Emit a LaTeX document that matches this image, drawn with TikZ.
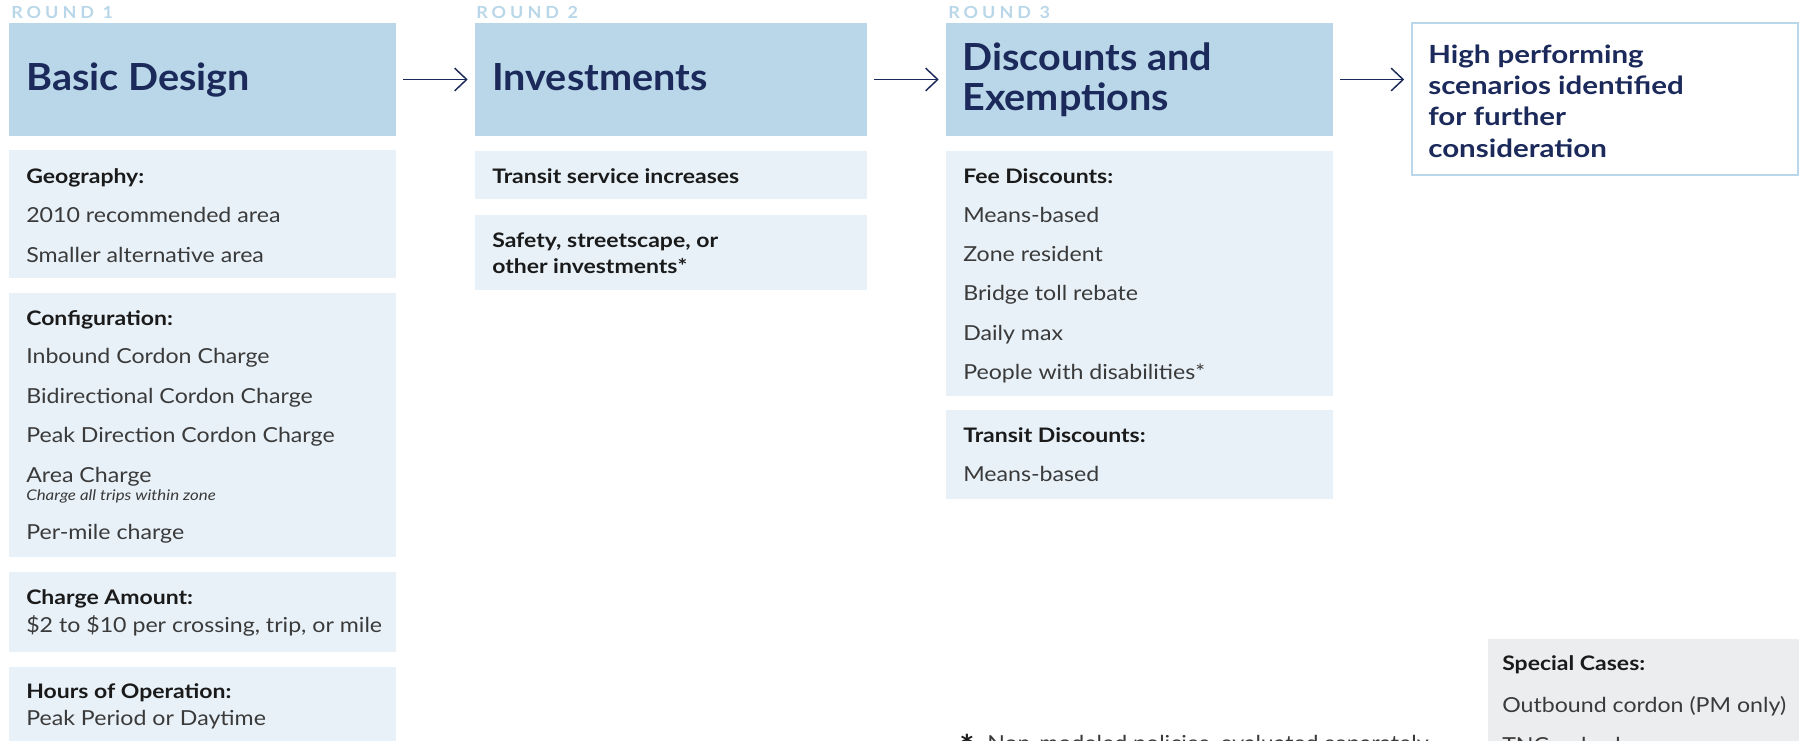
\documentclass[tikz,border=0pt]{standalone}
\usepackage{fontspec}
\setmainfont{Lato}[FakeStretch=1.12]
\newfontfamily\spacedfont{Lato}[LetterSpace=24, FakeStretch=1.08]
\newfontfamily\hdrfont{Lato}[FakeStretch=1.06]
\newfontfamily\lblfont{Lato}[FakeStretch=1.15]
\newfontfamily\endfont{Lato}[FakeStretch=1.18]
\newfontfamily\notefont{Lato}[FakeStretch=1.15]
\usetikzlibrary{arrows.meta,fit}
\definecolor{hdrc}{HTML}{B9D7E8}
\definecolor{bodyc}{HTML}{E8F1F8}
\definecolor{navy}{HTML}{1B2A5A}
\definecolor{txtc}{HTML}{3A3A3A}
\definecolor{lblc}{HTML}{1A1A1A}
\definecolor{grayc}{HTML}{ECEDEF}
\definecolor{roundc}{HTML}{B9D7E8}
\tikzset{
  roundlbl/.style={anchor=base west, inner sep=0pt, text=roundc, font=\spacedfont\bfseries\fontsize{12.5pt}{14pt}\selectfont},
  hdrbox/.style={fill=hdrc, draw=none, inner sep=0pt},
  bodybox/.style={fill=bodyc, draw=none, inner sep=0pt},
  graybox/.style={fill=grayc, draw=none, inner sep=0pt},
  endbox/.style={fill=white, draw=hdrc, line width=1.2pt, inner sep=0pt},
  hdrtxt/.style={anchor=base west, inner sep=0pt, text=navy, font=\hdrfont\bfseries\fontsize{28pt}{32pt}\selectfont},
  endtxt/.style={anchor=base west, inner sep=0pt, text=navy, font=\endfont\bfseries\fontsize{18.75pt}{22pt}\selectfont},
  lbl/.style={anchor=base west, inner sep=0pt, text=lblc, font=\lblfont\bfseries\fontsize{15pt}{18pt}\selectfont},
  itm/.style={anchor=base west, inner sep=0pt, text=txtc, font=\fontsize{15.5pt}{18pt}\selectfont},
  note/.style={anchor=base west, inner sep=0pt, text=txtc, font=\notefont\itshape\fontsize{11pt}{13pt}\selectfont},
  flow/.style={draw=navy, line width=1.1pt, -{Straight Barb[length=9pt, width=17pt, line width=1.1pt]}, shorten <=5.25pt, shorten >=5.25pt},
}
\begin{document}
\begin{tikzpicture}[x=0.75pt, y=-0.75pt]
\useasboundingbox (0,0) rectangle (1799,740);
\clip (0,0) rectangle (1799,740);
% round labels
\node[roundlbl] (r1) at (11,18) {ROUND 1};
\node[roundlbl] (r2) at (476,18) {ROUND 2};
\node[roundlbl] (r3) at (948,18) {ROUND 3};
% headers
\node[hdrbox, fit={(9,23) (396,136)}] (h1) {};
\node[hdrbox, fit={(475,23) (867,136)}] (h2) {};
\node[hdrbox, fit={(946,23) (1333,136)}] (h3) {};
\node[endbox, fit={(1412,23) (1798,175)}] (h4) {};
\node[hdrtxt] (t1) at (26,90) {Basic Design};
\node[hdrtxt] (t2) at (492,90) {Investments};
\node[hdrtxt] (t3a) at (962,70) {Discounts and};
\node[hdrtxt] (t3b) at (962,110) {Exemptions};
\node[endtxt] (t4a) at (1428,63) {High performing};
\node[endtxt] (t4b) at (1428,94) {scenarios identified};
\node[endtxt] (t4c) at (1428,125) {for further};
\node[endtxt] (t4d) at (1428,157) {consideration};
% arrows
\draw[flow] (h1.east) -- (h2.west);
\draw[flow] (h2.east) -- (h3.west);
\draw[flow] (h3.east) -- (h3.east -| h4.west);
% column 1
\node[bodybox, fit={(9,150) (396,278)}] (b11) {};
\node[lbl] (geo) at (26,183) {Geography:};
\node[itm] (geo1) at (26,222) {2010 recommended area};
\node[itm] (geo2) at (26,262) {Smaller alternative area};
\node[bodybox, fit={(9,293) (396,557)}] (b12) {};
\node[lbl] (cfg) at (26,325) {Configuration:};
\node[itm] (cfg1) at (26,363) {Inbound Cordon Charge};
\node[itm] (cfg2) at (26,403) {Bidirectional Cordon Charge};
\node[itm] (cfg3) at (26,442) {Peak Direction Cordon Charge};
\node[itm] (cfg4) at (26,482) {Area Charge};
\node[note] (cfg4n) at (26,500) {Charge all trips within zone};
\node[itm] (cfg5) at (26,539) {Per-mile charge};
\node[bodybox, fit={(9,572) (396,652)}] (b13) {};
\node[lbl] (amt) at (26,604) {Charge Amount:};
\node[itm] (amt1) at (26,632) {\$2 to \$10 per crossing, trip, or mile};
\node[bodybox, fit={(9,667) (396,770)}] (b14) {};
\node[lbl] (hrs) at (26,698) {Hours of Operation:};
\node[itm] (hrs1) at (26,725) {Peak Period or Daytime};
% column 2
\node[bodybox, fit={(475,151) (867,199)}] (b21) {};
\node[lbl] (inv1) at (492,183) {Transit service increases};
\node[bodybox, fit={(475,215) (867,290)}] (b22) {};
\node[lbl] (inv2a) at (492,247) {Safety, streetscape, or};
\node[lbl] (inv2b) at (492,273) {other investments*};
% column 3
\node[bodybox, fit={(946,151) (1333,396)}] (b31) {};
\node[lbl] (fee) at (963,183) {Fee Discounts:};
\node[itm] (fee1) at (963,222) {Means-based};
\node[itm] (fee2) at (963,261) {Zone resident};
\node[itm] (fee3) at (963,300) {Bridge toll rebate};
\node[itm] (fee4) at (963,340) {Daily max};
\node[itm] (fee5) at (963,379) {People with disabilities*};
\node[bodybox, fit={(946,410) (1333,499)}] (b32) {};
\node[lbl] (trd) at (963,442) {Transit Discounts:};
\node[itm] (trd1) at (963,481) {Means-based};
% special cases
\node[graybox, fit={(1488,639) (1810,780)}] (sp) {};
\node[lbl] (spl) at (1502,670) {Special Cases:};
\node[itm] (sp1) at (1502,712) {Outbound cordon (PM only)};
\node[itm] (sp2) at (1502,752) {TNC only charge};
% footnote
\node[anchor=base west, inner sep=0pt, text=lblc, font=\bfseries\fontsize{24pt}{26pt}\selectfont] (star) at (959,758) {*};
\node[itm] (fn) at (987,750) {Non-modeled policies, evaluated separately};
\end{tikzpicture}
\end{document}
